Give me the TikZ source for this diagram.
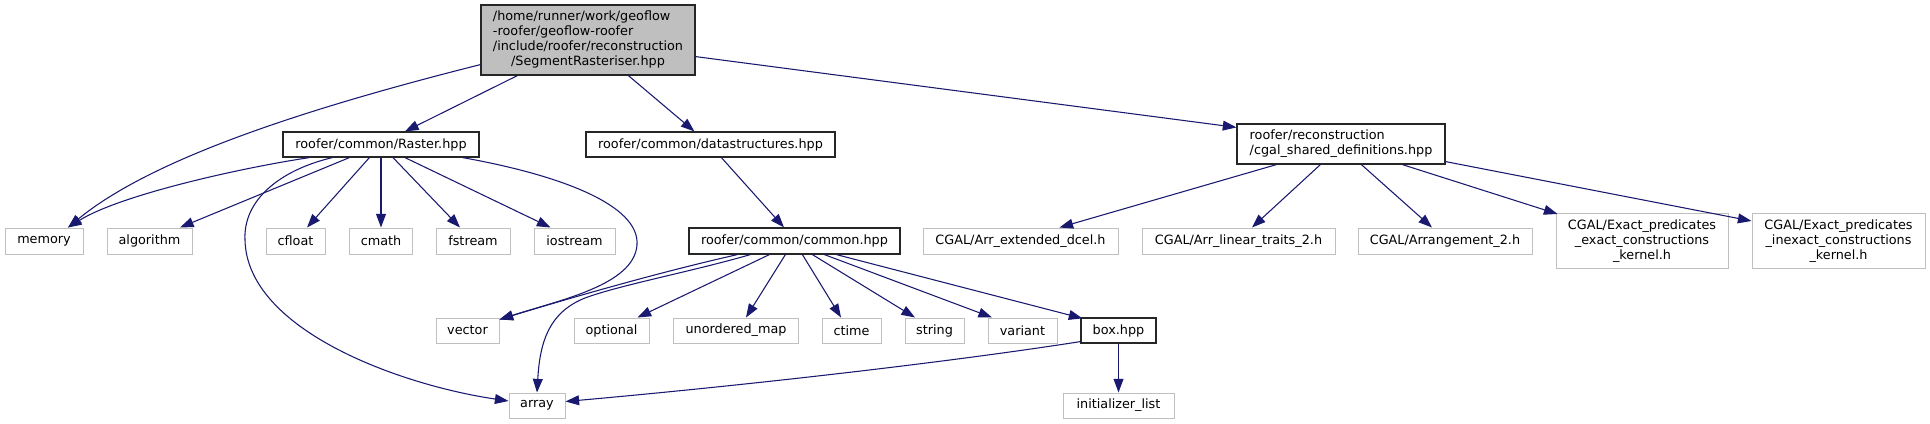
\documentclass[tikz,border=0pt]{standalone}
\usepackage{fontspec}
\setmainfont{DejaVu Sans}
\usetikzlibrary{arrows.meta,calc}
\definecolor{edgeblue}{RGB}{25,25,112}
\definecolor{extgray}{RGB}{191,191,191}
\definecolor{rootfill}{RGB}{191,191,191}
\tikzset{
  nd/.style={draw, line width=0.75pt, inner sep=0pt, font=\fontsize{9.6}{11.1}\selectfont, text=black, fill=white},
  ext/.style={nd, draw=extgray},
  inn/.style={nd, draw=black!85, line width=0.9pt},
  rootnd/.style={nd, draw=black!85, line width=0.9pt, fill=rootfill},
  sz/.style 2 args={minimum width={#1*0.75pt}, minimum height={#2*0.75pt}},
  dep/.style={draw=edgeblue, line width=0.8pt, -{Triangle[length=10.2pt,width=7.4pt]}},
}
\begin{document}
\begin{tikzpicture}[x=0.75pt,y=-0.75pt]
\useasboundingbox[fill=white] (0,0) rectangle (1930,424);
% nodes
\node[rootnd, sz={214}{70}] (root) at (588,40) {\begin{tabular}{@{}l@{}}/home/runner/work/geoflow\\-roofer/geoflow-roofer\\/include/roofer/reconstruction\\\multicolumn{1}{@{}c@{}}{/SegmentRasteriser.hpp}\end{tabular}};
\node[inn, sz={196}{25}] (raster) at (381,144.5) {roofer/common/Raster.hpp};
\node[inn, sz={249}{25}] (ds) at (710.5,144.5) {roofer/common/datastructures.hpp};
\node[inn, sz={208}{40}] (cgal) at (1341,144) {\begin{tabular}{@{}l@{}}roofer/reconstruction\\/cgal\_shared\_definitions.hpp\end{tabular}};
\node[ext, sz={78}{26}] (memory) at (44,241) {memory};
\node[ext, sz={85}{26}] (algorithm) at (149.5,241) {algorithm};
\node[ext, sz={59}{26}] (cfloat) at (295.5,241) {cfloat};
\node[ext, sz={63}{26}] (cmath) at (381,241) {cmath};
\node[ext, sz={74}{26}] (fstream) at (473,241) {fstream};
\node[ext, sz={81}{26}] (iostream) at (574.5,241) {iostream};
\node[inn, sz={211}{26}] (common) at (794.5,241) {roofer/common/common.hpp};
\node[ext, sz={195}{26}] (dcel) at (1020.5,241) {CGAL/Arr\_extended\_dcel.h};
\node[ext, sz={193}{26}] (linear) at (1238.5,241) {CGAL/Arr\_linear\_traits\_2.h};
\node[ext, sz={174}{26}] (arrangement) at (1445,241) {CGAL/Arrangement\_2.h};
\node[ext, sz={172}{55}, align=center] (exact) at (1642,241) {CGAL/Exact\_predicates\\\_exact\_constructions\\\_kernel.h};
\node[ext, sz={173}{55}, align=center] (inexact) at (1838.5,241) {CGAL/Exact\_predicates\\\_inexact\_constructions\\\_kernel.h};
\node[ext, sz={63}{25}] (vector) at (467.5,330.5) {vector};
\node[ext, sz={75}{25}] (optional) at (611.5,330.5) {optional};
\node[ext, sz={125}{25}] (umap) at (736,330.5) {unordered\_map};
\node[ext, sz={59}{25}] (ctime) at (851.5,330.5) {ctime};
\node[ext, sz={59}{25}] (string) at (934.5,330.5) {string};
\node[ext, sz={69}{25}] (variant) at (1022.5,330.5) {variant};
\node[inn, sz={75}{25}] (box) at (1118.5,330.5) {box.hpp};
\node[ext, sz={56}{25}] (array) at (537,405.5) {array};
\node[ext, sz={111}{25}] (init) at (1118.5,405.5) {initializer\_list};
% edges from root
\draw[dep] ($(root.south west)+(0,-11)$) .. controls (300,110) and (150,160) .. ($(memory.north)+(24,0)$);
\draw[dep] ($(root.south west)+(37,0)$) -- ($(raster.north)+(24,0)$);
\draw[dep] ($(root.south west)+(148,0)$) -- ($(ds.north west)+(109,0)$);
\draw[dep] ($(root.south east)+(0,-19)$) -- ($(cgal.north west)+(0,4)$);
% edges from Raster
\draw[dep] ($(raster.south west)+(27,0)$) .. controls (240,168) and (120,195) .. ($(memory.north)+(24,0)$);
\draw[dep] ($(raster.south west)+(67,0)$) -- ($(algorithm.north)+(30.5,0)$);
\draw[dep] ($(raster.south west)+(87,0)$) -- ($(cfloat.north)+(11.5,0)$);
\draw[dep] (raster.south) -- (cmath.north);
\draw[dep] ($(raster.south)+(12,0)$) -- ($(fstream.north)+(-13,0)$);
\draw[dep] ($(raster.south)+(24,0)$) -- ($(iostream.north)+(-24,0)$);
\draw[dep] ($(raster.south east)+(-17,0)$) .. controls (560,175) and (640,205) .. (637,245) .. controls (634,285) and (560,300) .. ($(vector.north east)+(0,2)$);
\draw[dep] ($(raster.south west)+(50,0)$) .. controls (280,170) and (243,200) .. (245,240) .. controls (247,330) and (400,385) .. ($(array.west)+(0,-4.5)$);
% datastructures
\draw[dep] ($(ds.south west)+(136,0)$) -- ($(common.north)+(-10.5,0)$);
% edges from common
\draw[dep] ($(common.south west)+(49,0)$) .. controls (660,272) and (570,298) .. ($(vector.north east)+(0,2)$);
\draw[dep] ($(common.south west)+(62,0)$) .. controls (690,272) and (620,285) .. (585,298) .. controls (550,312) and (540,340) .. (array.north);
\draw[dep] ($(common.south west)+(81,0)$) -- ($(optional.north)+(26,0)$);
\draw[dep] ($(common.south west)+(97,0)$) -- ($(umap.north)+(10,0)$);
\draw[dep] ($(common.south west)+(114,0)$) -- ($(ctime.north)+(-10.5,0)$);
\draw[dep] ($(common.south west)+(124,0)$) -- ($(string.north)+(-19.5,0)$);
\draw[dep] ($(common.south west)+(136,0)$) -- ($(variant.north)+(-30.5,0)$);
\draw[dep] ($(common.south west)+(148,0)$) -- ($(box.north west)+(2,1)$);
% edges from box
\draw[dep] ($(box.south west)+(0,-2)$) .. controls (950,362) and (750,385) .. ($(array.east)+(0,-4)$);
\draw[dep] (box.south) -- (init.north);
% edges from cgal
\draw[dep] ($(cgal.south west)+(40,0)$) -- ($(dcel.north)+(39,0)$);
\draw[dep] ($(cgal.south west)+(84,0)$) -- ($(linear.north)+(13.5,0)$);
\draw[dep] ($(cgal.south west)+(125,0)$) -- ($(arrangement.north)+(-13,0)$);
\draw[dep] ($(cgal.south west)+(166,0)$) -- ($(exact.north west)+(2,1)$);
\draw[dep] ($(cgal.south east)+(0,-3)$) -- ($(inexact.north west)+(0,8)$);
\end{tikzpicture}
\end{document}
